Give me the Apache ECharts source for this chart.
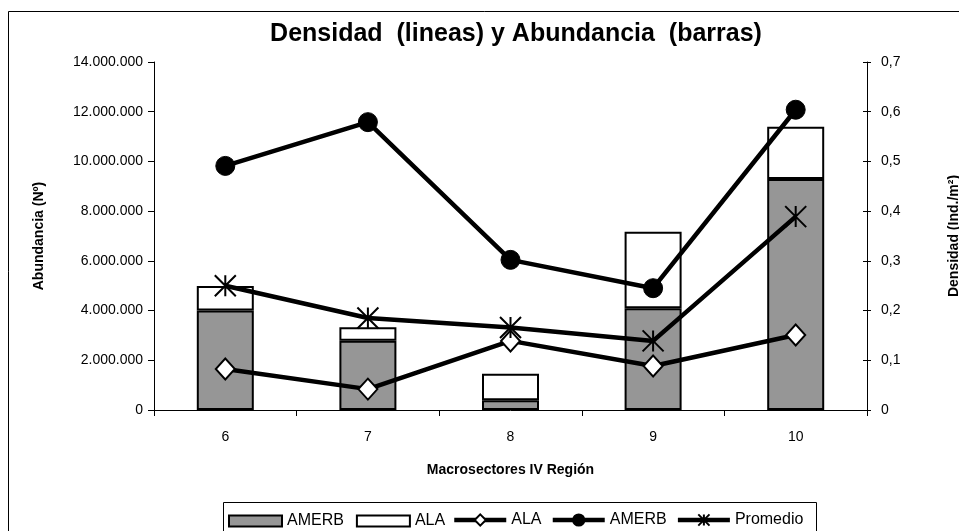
<!DOCTYPE html>
<html>
<head>
<meta charset="utf-8">
<script src="https://cdn.jsdelivr.net/npm/echarts@6/dist/echarts.min.js"></script>
<style>
html,body{margin:0;padding:0;background:#fff;}
#chart{width:959px;height:531px;}
</style>
</head>
<body>
<div id="chart"></div>
<script>
var categories = ['6', '7', '8', '9', '10'];
var abundanciaAMERB = [4000000, 2790000, 390000, 4090000, 9290000];
var abundanciaALA = [990000, 540000, 1070000, 3080000, 2110000];
var densidadALA = [0.0825, 0.042, 0.139, 0.0885, 0.151];
var densidadAMERB = [0.491, 0.579, 0.302, 0.245, 0.604];
var densidadPromedio = [0.25, 0.185, 0.166, 0.139, 0.389];

var FONT = '"Liberation Sans", Arial, sans-serif';
var chart = echarts.init(document.getElementById('chart'));

function fmtLeft(v) {
  if (v === 0) return '0';
  return String(Math.round(v)).replace(/\B(?=(\d{3})+(?!\d))/g, '.');
}
function fmtRight(v) {
  if (v === 0) return '0';
  return v.toFixed(1).replace('.', ',');
}

var starPath = 'path://M0 0L20 20M20 0L0 20M10 0L10 20';

chart.setOption({
  animation: false,
  backgroundColor: '#fff',
  textStyle: { fontFamily: FONT, color: '#000' },
  title: {
    text: 'Densidad  (lineas) y Abundancia  (barras)',
    left: 511,
    textAlign: 'center',
    top: 17,
    textStyle: { fontFamily: FONT, fontSize: 25, fontWeight: 'bold', color: '#000' }
  },
  graphic: [
    { type: 'rect', shape: { x: 8.5, y: 11.5, width: 1000, height: 600 },
      style: { fill: 'none', stroke: '#000', lineWidth: 1 }, silent: true, z: -10 },
    { type: 'rect', shape: { x: 223.5, y: 502.5, width: 593, height: 40 },
      style: { fill: '#fff', stroke: '#000', lineWidth: 1 }, silent: true, z: -5 }
  ],
  legend: [
    {
      data: ['AMERB', 'ALA'],
      left: 228, top: 513, padding: 0,
      icon: 'rect',
      itemWidth: 53, itemHeight: 11, itemGap: 12,
      textStyle: { fontFamily: FONT, fontSize: 16, color: '#000' },
      formatter: function (n) { return n.trim(); }
    },
    {
      data: ['ALA ', 'AMERB ', 'Promedio'],
      left: 452, top: 512, padding: 0,
      itemWidth: 52, itemHeight: 14, itemGap: 9,
      lineStyle: { width: 4.5 },
      textStyle: { fontFamily: FONT, fontSize: 16, color: '#000' },
      formatter: function (n) { return n.trim(); }
    }
  ],
  grid: { left: 154, right: 92, top: 62, bottom: 121, containLabel: false, outerBoundsMode: 'none' },
  xAxis: {
    type: 'category',
    data: categories,
    name: 'Macrosectores IV Región',
    nameLocation: 'middle',
    nameGap: 53,
    nameTextStyle: { fontFamily: FONT, fontSize: 14, fontWeight: 'bold', color: '#000' },
    axisLine: { lineStyle: { color: '#000', width: 1 } },
    axisTick: { show: true, length: 6, lineStyle: { color: '#000' } },
    axisLabel: { margin: 20, fontFamily: FONT, fontSize: 14, color: '#000' },
    splitLine: { show: false }
  },
  yAxis: [
    {
      type: 'value', position: 'left',
      min: 0, max: 14000000, interval: 2000000,
      name: 'Abundancia (Nº)',
      nameLocation: 'middle', nameRotate: 90, nameGap: 108,
      nameTextStyle: { fontFamily: FONT, fontSize: 14, fontWeight: 'bold', color: '#000' },
      axisLine: { show: true, lineStyle: { color: '#000', width: 1 } },
      axisTick: { show: true, length: 6, lineStyle: { color: '#000' } },
      axisLabel: { margin: 11, fontFamily: FONT, fontSize: 14, color: '#000', formatter: fmtLeft },
      splitLine: { show: false }
    },
    {
      type: 'value', position: 'right',
      min: 0, max: 0.7, interval: 0.1,
      name: 'Densidad (Ind./m²)',
      nameLocation: 'middle', nameRotate: 90, nameGap: 80,
      nameTextStyle: { fontFamily: FONT, fontSize: 14, fontWeight: 'bold', color: '#000' },
      axisLine: { show: true, lineStyle: { color: '#000', width: 1 } },
      axisTick: { show: true, length: 4, lineStyle: { color: '#000' } },
      axisLabel: { margin: 14, fontFamily: FONT, fontSize: 14, color: '#000', formatter: fmtRight },
      splitLine: { show: false }
    },
    {
      type: 'value', position: 'right',
      min: 0, max: 0.7, interval: 0.1,
      axisLine: { show: false },
      axisTick: { show: true, inside: true, length: 4, lineStyle: { color: '#000' } },
      axisLabel: { show: false },
      splitLine: { show: false }
    }
  ],
  series: [
    {
      name: 'AMERB', type: 'bar', stack: 'ab', yAxisIndex: 0,
      data: abundanciaAMERB, barWidth: 57,
      itemStyle: { color: '#969696', borderColor: '#000', borderWidth: 2 }
    },
    {
      name: 'ALA', type: 'bar', stack: 'ab', yAxisIndex: 0,
      data: abundanciaALA, barWidth: 57,
      itemStyle: { color: '#ffffff', borderColor: '#000', borderWidth: 2 }
    },
    {
      name: 'ALA ', type: 'line', yAxisIndex: 1, data: densidadALA,
      symbol: 'diamond', symbolSize: [19, 21],
      lineStyle: { color: '#000', width: 4.5 },
      itemStyle: { color: '#fff', borderColor: '#000', borderWidth: 2 },
      z: 5
    },
    {
      name: 'AMERB ', type: 'line', yAxisIndex: 1, data: densidadAMERB,
      symbol: 'circle', symbolSize: 19,
      lineStyle: { color: '#000', width: 4.5 },
      itemStyle: { color: '#000', borderColor: '#000', borderWidth: 1 },
      z: 5
    },
    {
      name: 'Promedio', type: 'line', yAxisIndex: 1, data: densidadPromedio,
      symbol: starPath, symbolSize: 21,
      lineStyle: { color: '#000', width: 4.5 },
      itemStyle: { color: '#000', borderColor: '#000', borderWidth: 2 },
      z: 5
    }
  ]
});
</script>
</body>
</html>
